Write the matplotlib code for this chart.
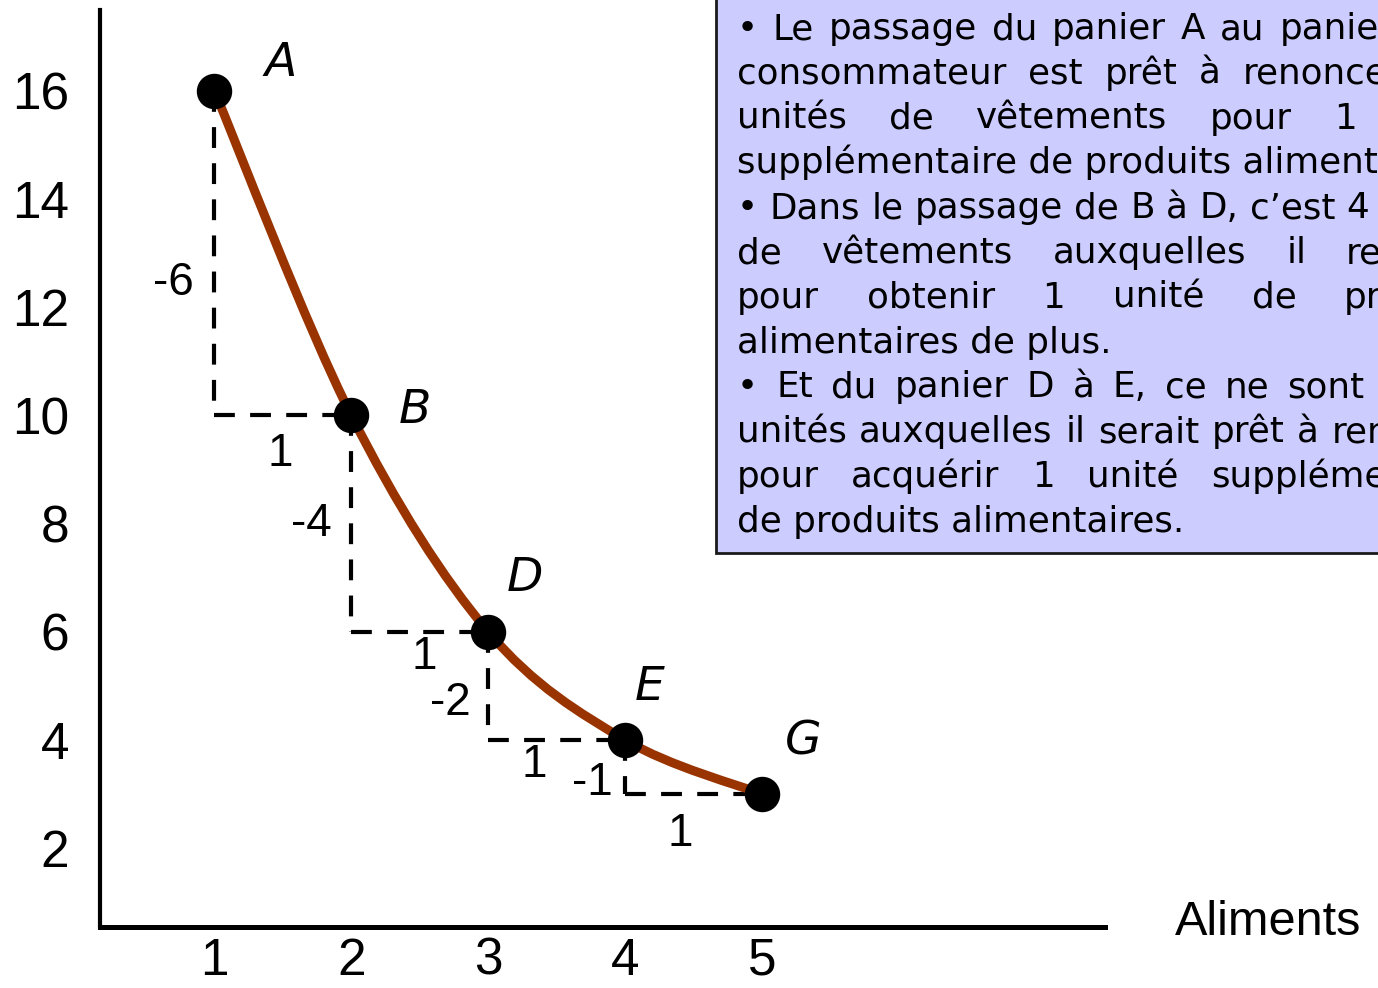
import numpy as np
import matplotlib
matplotlib.use("Agg")
import matplotlib.pyplot as plt
from matplotlib.path import Path
from matplotlib.patches import PathPatch, Rectangle

# paniers de la courbe d'indifference (aliments, vetements)
paniers = ["A", "B", "D", "E", "G"]
aliments = [1, 2, 3, 4, 5]
vetements = [16, 10, 6, 4, 3]

xticks = [1, 2, 3, 4, 5]
yticks = [2, 4, 6, 8, 10, 12, 14, 16]
xlabel = "Aliments"

# texte de l'encadre (ligne, justifiee ou non)
lignes = [
    ("• Le passage du panier A au panier B, le", True),
    ("consommateur est prêt à renoncer à 6", True),
    ("unités de vêtements pour 1 unité", True),
    ("supplémentaire de produits alimentaires.", False),
    ("• Dans le passage de B à D, c’est 4 unités", True),
    ("de vêtements auxquelles il renonce", True),
    ("pour obtenir 1 unité de produits", True),
    ("alimentaires de plus.", False),
    ("• Et du panier D à E, ce ne sont que 2", True),
    ("unités auxquelles il serait prêt à renoncer", True),
    ("pour acquérir 1 unité supplémentaire", True),
    ("de produits alimentaires.", False),
]

plt.rcParams["lines.scale_dashes"] = False

W, H = 1378, 988
PT = 72 / 100  # pixels -> points
etroite = ["Liberation Sans", "DejaVu Sans"]

fig = plt.figure(figsize=(W / 100, H / 100), dpi=100)
ax = fig.add_axes([100 / W, 1 - 927 / H, (1105 - 100) / W, (927 - 10) / H])
ax.set_xlim(0.164, 7.505)
ax.set_ylim(0.542, 17.496)

for s in ["top", "right"]:
    ax.spines[s].set_visible(False)
ax.spines["left"].set_linewidth(3)
ax.spines["bottom"].set_linewidth(3.6)

ax.set_xticks(xticks)
ax.set_xticklabels([str(v) for v in xticks], family=etroite, fontsize=37)
ax.set_yticks(yticks)
ax.set_yticklabels([str(v) for v in yticks], family=etroite, fontsize=37)
ax.tick_params(axis="x", length=0, pad=7)
ax.tick_params(axis="y", length=0, pad=22)

fig.text(1175 / W, 1 - 935 / H, xlabel, family=etroite, fontsize=35,
         ha="left", va="baseline")

# escaliers en pointilles entre paniers
for i in range(len(aliments) - 1):
    x0, y0 = aliments[i], vetements[i]
    x1, y1 = aliments[i + 1], vetements[i + 1]
    for xs, ys in [([x0, x0], [y0, y1]), ([x0, x1], [y1, y1])]:
        ax.plot(xs, ys, color="black", lw=3, zorder=2, dashes=(15, 11),
                dash_capstyle="butt")

# position des etiquettes de variation (decalages en pixels)
dv = [(-41, -30), (-40, 0), (-38, -17), (-33, -16)]
dh = [(-3, -39), (4, -25), (-22, -25), (-13, -40)]
for i in range(len(aliments) - 1):
    x0, y0 = aliments[i], vetements[i]
    x1, y1 = aliments[i + 1], vetements[i + 1]
    ax.annotate(f"{y1 - y0:g}", (x0, (y0 + y1) / 2),
                xytext=(dv[i][0] * PT, dv[i][1] * PT), textcoords="offset points",
                ha="center", va="center", family=etroite, fontsize=33)
    ax.annotate(f"{x1 - x0:g}", ((x0 + x1) / 2, y1),
                xytext=(dh[i][0] * PT, dh[i][1] * PT), textcoords="offset points",
                ha="center", va="center", family=etroite, fontsize=33)

# courbe lissee (Catmull-Rom -> Bezier)
P = np.column_stack([aliments, vetements]).astype(float)
ext = np.vstack([P[0], P, P[-1]])
verts = [tuple(P[0])]
codes = [Path.MOVETO]
for i in range(len(P) - 1):
    p0, p1, p2, p3 = ext[i], ext[i + 1], ext[i + 2], ext[i + 3]
    c1 = p1 + (p2 - p0) / 6
    c2 = p2 - (p3 - p1) / 6
    verts += [tuple(c1), tuple(c2), tuple(p2)]
    codes += [Path.CURVE4] * 3
ax.add_patch(PathPatch(Path(verts, codes), facecolor="none",
                       edgecolor="#993300", lw=6.5, zorder=3, capstyle="round"))

ax.plot(aliments, vetements, "o", color="black", ms=24.5, zorder=4)

dl = [(66, 27), (64, 5), (37, 53), (25, 52), (41, 52)]
for i, nom in enumerate(paniers):
    ax.annotate(nom, (aliments[i], vetements[i]),
                xytext=(dl[i][0] * PT, dl[i][1] * PT), textcoords="offset points",
                ha="center", va="center", fontsize=34, style="italic",
                family="DejaVu Sans")

# encadre explicatif
fig.patches.append(Rectangle((716 / W, 1 - 553 / H), 1, 1, transform=fig.transFigure,
                             facecolor="#ccccff", edgecolor="#1a1a1a", lw=2))

renderer = fig.canvas.get_renderer()


def largeur(s, fs):
    t = fig.text(0, 0, s, fontsize=fs, family="DejaVu Sans")
    w = t.get_window_extent(renderer).width
    t.remove()
    return w


fs = 24
fs *= (1378 - 737) / largeur("supplémentaire de produits aliment", fs)
droite = 737 + max(largeur(l, fs) for l, _ in lignes)

for i, (ligne, just) in enumerate(lignes):
    yb = 1 - (39 + 44.8 * i) / H
    if not just:
        fig.text(737 / W, yb, ligne, fontsize=fs, family="DejaVu Sans",
                 va="baseline", ha="left")
        continue
    mots = ligne.split(" ")
    lw = [largeur(m, fs) for m in mots]
    gap = (droite - 737 - sum(lw)) / (len(mots) - 1)
    x = 737
    for m, w in zip(mots, lw):
        fig.text(x / W, yb, m, fontsize=fs, family="DejaVu Sans",
                 va="baseline", ha="left")
        x += w + gap

fig.savefig("out.png", dpi=100)
